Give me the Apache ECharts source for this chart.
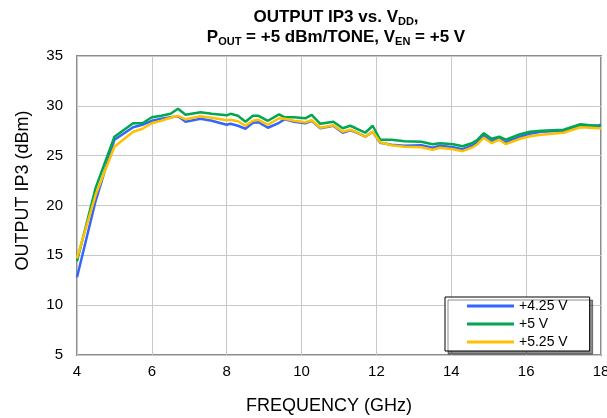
<!DOCTYPE html>
<html>
<head>
<meta charset="utf-8">
<script src="https://cdn.jsdelivr.net/npm/echarts@6/dist/echarts.min.js"></script>
<style>
  html, body { margin: 0; padding: 0; background: #fff; }
  #main { width: 607px; height: 418px; }
</style>
</head>
<body>
<div id="main"></div>
<script>
// 周波数 (GHz)
const freq = [4.0, 4.5, 5.0, 5.5, 5.75, 6.0, 6.25, 6.5, 6.7, 6.9, 7.3, 7.6, 8.0, 8.1, 8.3, 8.5, 8.7, 8.85,
  9.1, 9.4, 9.55, 9.8, 10.1, 10.27, 10.5, 10.85, 11.1, 11.3, 11.45, 11.7, 11.9, 12.1, 12.4, 12.75,
  13.2, 13.5, 13.7, 14.05, 14.3, 14.55, 14.7, 14.87, 15.08, 15.28, 15.46, 15.84, 16.1, 16.4, 17.0,
  17.45, 17.95, 18.0];

// OUTPUT IP3 (dBm)
const ip3_425 = [12.8, 20.5, 26.6, 27.85, 28.1, 28.5, 28.7, 28.85, 28.95, 28.4, 28.7, 28.5, 28.1, 28.2, 28.0, 27.7, 28.3, 28.35,
  27.8, 28.3, 28.65, 28.4, 28.25, 28.5, 27.75, 28.0, 27.3, 27.55, 27.35, 26.9, 27.4, 26.3, 26.1, 26.0,
  26.05, 25.8, 26.0, 25.85, 25.65, 26.0, 26.35, 27.0, 26.45, 26.75, 26.35, 26.9, 27.2, 27.4, 27.5,
  28.0, 28.05, 28.1];
const ip3_5 = [14.4, 21.8, 26.9, 28.25, 28.25, 28.85, 29.0, 29.2, 29.7, 29.1, 29.35, 29.2, 29.05, 29.2, 29.0, 28.4, 29.0, 29.0,
  28.5, 29.15, 28.85, 28.85, 28.75, 29.1, 28.2, 28.4, 27.75, 28.0, 27.75, 27.3, 28.0, 26.6, 26.6, 26.45,
  26.4, 26.15, 26.25, 26.15, 25.95, 26.25, 26.6, 27.25, 26.7, 26.9, 26.6, 27.15, 27.4, 27.5, 27.6,
  28.15, 27.95, 27.95];
const ip3_525 = [14.7, 21.1, 25.9, 27.4, 27.7, 28.25, 28.5, 28.8, 29.0, 28.65, 28.95, 28.8, 28.55, 28.6, 28.45, 28.0, 28.5, 28.6,
  28.1, 28.75, 28.7, 28.5, 28.35, 28.55, 27.8, 28.05, 27.4, 27.6, 27.4, 26.9, 27.4, 26.35, 26.05, 25.9,
  25.85, 25.6, 25.8, 25.65, 25.45, 25.8, 26.15, 26.8, 26.25, 26.6, 26.15, 26.7, 26.95, 27.1, 27.3,
  27.85, 27.75, 27.75];

const seriesNames = ['+4.25 V', '+5 V', '+5.25 V'];
const seriesColors = ['#3366ff', '#00a650', '#ffc000'];
const xTicks = [4, 18, 2];   // min, max, interval
const yTicks = [5, 35, 5];

const font = 'Arial, "Liberation Sans", sans-serif';

function pairs(vals) {
  return freq.map((f, i) => [f, vals[i]]);
}

const chart = echarts.init(document.getElementById('main'));

const option = {
  animation: false,
  backgroundColor: '#fff',
  title: {
    left: 331,
    top: 2,
    textAlign: 'center',
    text: '{b|OUTPUT IP3 vs. V}{s|DD}{b|,}\n{b|P}{s|OUT}{b| = +5 dBm/TONE, V}{s|EN}{b| = +5 V}',
    textStyle: {
      rich: {
        b: { fontFamily: font, fontWeight: 'bold', fontSize: 17, color: '#000', lineHeight: 20 },
        s: { fontFamily: font, fontWeight: 'bold', fontSize: 11, color: '#000', lineHeight: 20, verticalAlign: 'bottom', padding: [7, 0, 0, 0] }
      }
    }
  },
  legend: {
    data: seriesNames,
    orient: 'vertical',
    left: 445,
    top: 297,
    icon: 'rect',
    itemWidth: 47,
    itemHeight: 3,
    itemGap: 4,
    padding: [2, 22, 2, 22],
    backgroundColor: '#fff',
    borderColor: '#000',
    borderWidth: 1,
    borderRadius: 0,
    shadowColor: 'rgba(0,0,0,0.45)',
    shadowOffsetX: 3,
    shadowOffsetY: 3,
    shadowBlur: 0,
    textStyle: { fontFamily: font, fontSize: 14, color: '#000', lineHeight: 14 }
  },
  grid: {
    left: 77,
    right: 6,
    top: 56,
    bottom: 63,
    show: true,
    borderColor: '#8c8c8c',
    borderWidth: 2,
    containLabel: false,
    outerBoundsMode: 'none'
  },
  xAxis: {
    type: 'value',
    min: xTicks[0],
    max: xTicks[1],
    interval: xTicks[2],
    name: 'FREQUENCY (GHz)',
    nameLocation: 'middle',
    nameGap: 42,
    nameTextStyle: { fontFamily: font, fontSize: 18, color: '#000', padding: [0, 20, 0, 0] },
    axisLine: { show: false },
    axisTick: { show: false },
    axisLabel: { fontFamily: font, fontSize: 15, color: '#000', margin: 9 },
    splitLine: { show: true, lineStyle: { color: '#c8c8c8', width: 1 } }
  },
  yAxis: {
    type: 'value',
    min: yTicks[0],
    max: yTicks[1],
    interval: yTicks[2],
    name: 'OUTPUT IP3 (dBm)',
    nameLocation: 'middle',
    nameRotate: 90,
    nameGap: 45,
    nameTextStyle: { fontFamily: font, fontSize: 18, color: '#000', padding: [0, 0, 0, 30] },
    axisLine: { show: false },
    axisTick: { show: false },
    axisLabel: { fontFamily: font, fontSize: 15, color: '#000', margin: 14 },
    splitLine: { show: true, lineStyle: { color: '#c8c8c8', width: 1 } }
  },
  series: [ip3_425, ip3_5, ip3_525].map((vals, i) => ({
    name: seriesNames[i],
    type: 'line',
    data: pairs(vals),
    showSymbol: false,
    symbol: 'none',
    color: seriesColors[i],
    lineStyle: { color: seriesColors[i], width: 2.5 }
  }))
};

chart.setOption(option);
</script>
</body>
</html>
